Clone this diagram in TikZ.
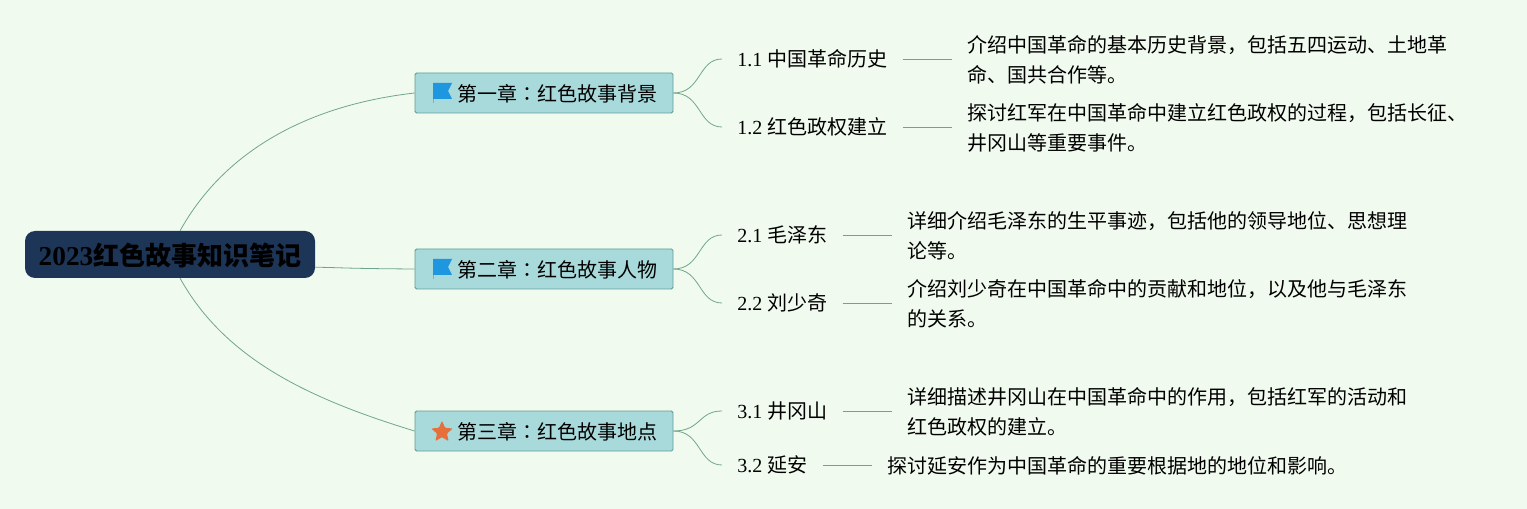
\documentclass[tikz,border=0pt]{standalone}
\usepackage{fontspec}
\setmainfont{Liberation Serif}
\newfontfamily\cjk{Noto Sans CJK SC}
\newfontfamily\cjktc{Noto Sans CJK TC}
\usetikzlibrary{calc,shapes.geometric}
\definecolor{bgc}{HTML}{F1FAEE}
\definecolor{boxfill}{HTML}{A8DADC}
\definecolor{boxline}{HTML}{5F9E96}
\definecolor{rootfill}{HTML}{1D3557}
\definecolor{linkc}{HTML}{6FA58F}
\definecolor{flagc}{HTML}{1E96E0}
\definecolor{starc}{HTML}{E76F3B}
\newcommand{\clr}{{\cjktc ：}}
\tikzset{
  x=0.75pt,y=-0.75pt,
  link/.style={draw=linkc,line width=0.6pt},
  rootbox/.style={draw=none,fill=rootfill,rounded corners=7.5pt,minimum width=217.5pt,minimum height=35.25pt,inner sep=0pt,text height=20pt,text depth=3.5pt,font=\fontsize{19.5}{23}\selectfont\bfseries},
  chapbox/.style={draw=boxline,fill=boxfill,line width=0.7pt,rounded corners=1.2pt,minimum width=193.5pt,minimum height=30pt,inner sep=0pt,text height=15.4pt,text depth=2pt,font=\fontsize{15}{22.5}\selectfont\cjk},
  subbox/.style={anchor=west,inner xsep=11.25pt,inner ysep=0pt,text height=14pt,text depth=3pt,font=\fontsize{15}{22.5}\selectfont},
  detailbox/.style={anchor=west,inner xsep=11.25pt,inner ysep=0pt,align=left,font=\fontsize{15}{22.5}\selectfont\cjk},
}
\begin{document}
\begin{tikzpicture}
\useasboundingbox (0,0) rectangle (1527,509);
\fill[bgc] (0,0) rectangle (1527,509);

\node[rootbox] (root) at (170,254.5) {{\fontsize{20.5}{23}\selectfont 2023}{\cjk 红色故事知识笔记}};

\node[chapbox] (c1) at (544,93) {\hspace*{19.5pt}第一章\clr 红色故事背景};
\node[chapbox] (c2) at (544,269) {\hspace*{19.5pt}第二章\clr 红色故事人物};
\node[chapbox] (c3) at (544,431) {\hspace*{19.5pt}第三章\clr 红色故事地点};

\node[subbox] (s11) at (722,59) {1.1 {\cjk 中国革命历史}};
\node[subbox] (s12) at (722,127) {1.2 {\cjk 红色政权建立}};
\node[subbox] (s21) at (722,235) {2.1 {\cjk 毛泽东}};
\node[subbox] (s22) at (722,303) {2.2 {\cjk 刘少奇}};
\node[subbox] (s31) at (722,411) {3.1 {\cjk 井冈山}};
\node[subbox] (s32) at (722,465) {3.2 {\cjk 延安}};

\node[detailbox] (d11) at (952,60) {介绍中国革命的基本历史背景，包括五四运动、土地革\\命、国共合作等。};
\node[detailbox] (d12) at (952,128) {探讨红军在中国革命中建立红色政权的过程，包括长征、\\井冈山等重要事件。};
\node[detailbox] (d21) at (892,236) {详细介绍毛泽东的生平事迹，包括他的领导地位、思想理\\论等。};
\node[detailbox] (d22) at (892,304) {介绍刘少奇在中国革命中的贡献和地位，以及他与毛泽东\\的关系。};
\node[detailbox] (d31) at (892,412) {详细描述井冈山在中国革命中的作用，包括红军的活动和\\红色政权的建立。};
\node[detailbox] (d32) at (872,465.5) {探讨延安作为中国革命的重要根据地的地位和影响。};

\draw[link] (root.67) .. controls +(45,-81) and +(-105,12) .. (c1.west);
\draw[link] (root.-5) .. controls +(30,0.5) and +(-70,-0.5) .. (c2.west);
\draw[link] (root.-67) .. controls +(45,81) and +(-105,-32) .. (c3.west);

\foreach \a/\b in {c1/s11,c1/s12,c2/s21,c2/s22,c3/s31,c3/s32}
  \draw[link] (\a.east) .. controls +(28,0) and +(-24,0) .. (\b.west);
\foreach \a/\b in {s11/d11,s12/d12,s21/d21,s22/d22,s31/d31,s32/d32}
  \draw[link] (\a.east) -- (\b.west |- \a.east);

% flag icons
\foreach \n in {c1,c2}{
  \begin{scope}[shift={($(\n.center)+(-111,-10)$)}]
    \fill[flagc] (0,0) -- (19,0) -- (15,8) -- (19,16) -- (0,16) -- cycle;
    \fill[flagc!70!white] (0,16) rectangle (1.2,20);
  \end{scope}
}
% star icon
\node[star,star points=5,star point ratio=2.2,fill=starc,rounded corners=0.8pt,inner sep=0pt,minimum size=17pt] (st) at (442,432) {};
\end{tikzpicture}
\end{document}
